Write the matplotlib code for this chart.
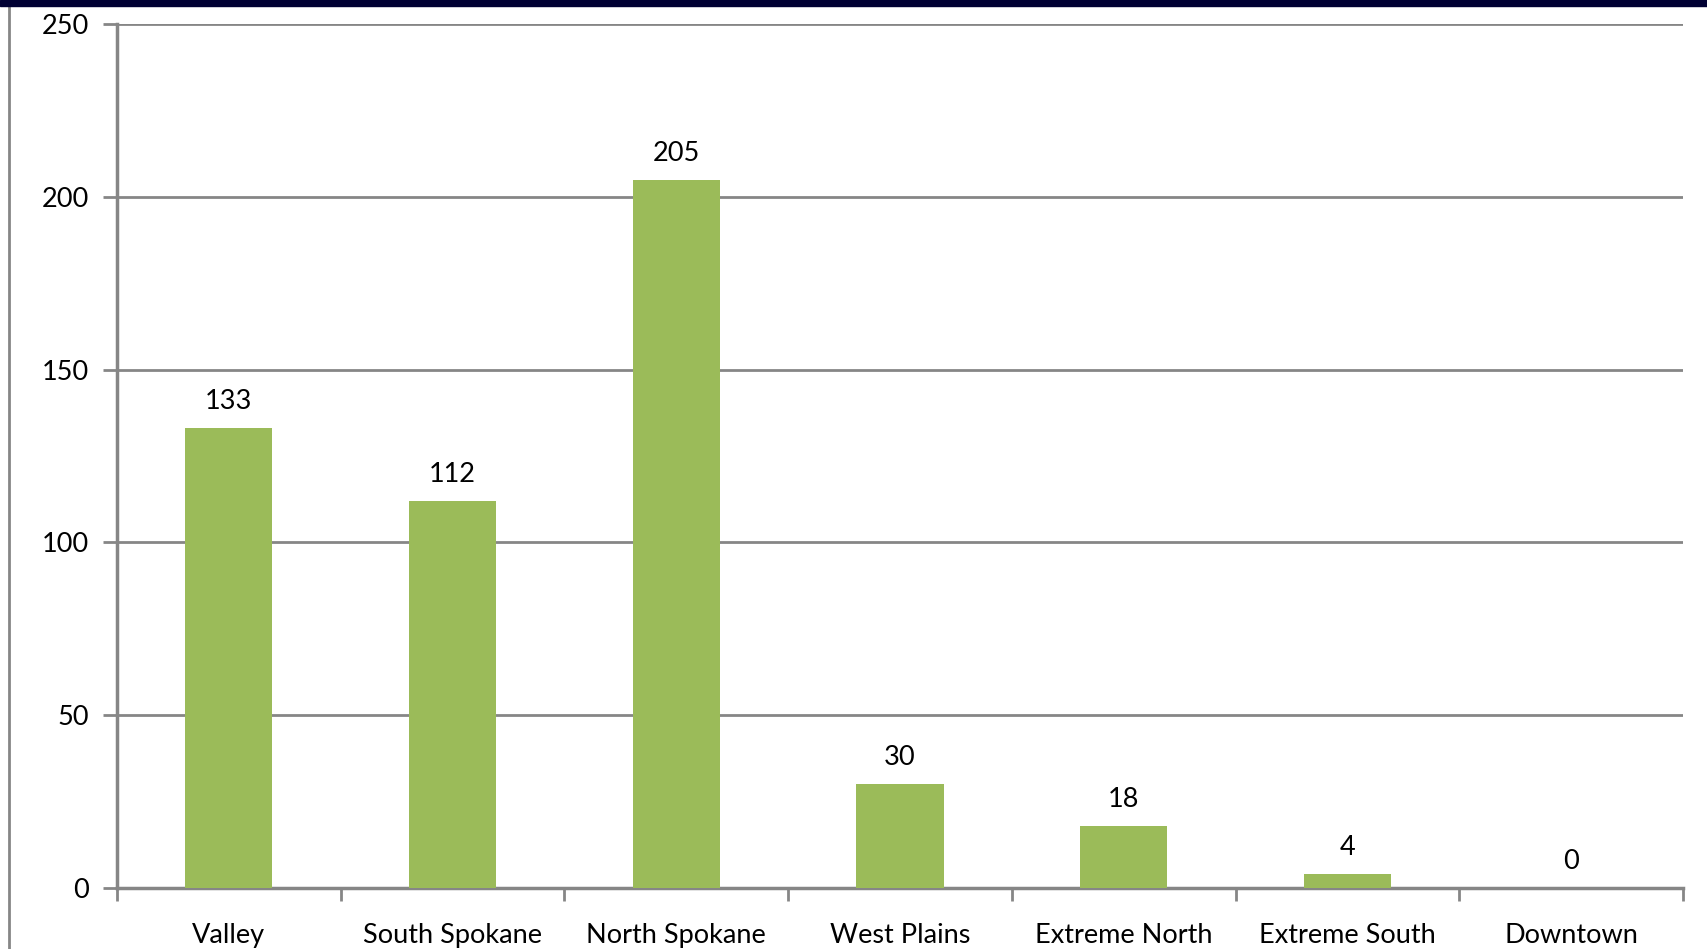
import numpy as np
import matplotlib.pyplot as plt
from matplotlib.patches import Rectangle
from matplotlib.lines import Line2D

regions = ["Valley", "South Spokane", "North Spokane", "West Plains",
           "Extreme North", "Extreme South", "Downtown"]
counts = [133, 112, 205, 30, 18, 4, 0]
yticks = [0, 50, 100, 150, 200, 250]

plt.rcParams['font.family'] = ['Lato', 'DejaVu Sans']
grey = '#868686'

fig = plt.figure(figsize=(17.07, 9.49), dpi=100)
ax = fig.add_axes([0.0685, 0.0643, 0.9175, 0.9104])

x = np.arange(len(regions))
ax.bar(x, counts, width=0.39, color='#9BBB59', zorder=3)
for xi, v in zip(x, counts):
    ax.annotate(str(v), (xi, v), xytext=(0, 10), textcoords='offset points',
                ha='center', va='bottom', fontsize=19.5, color='black')

ax.set_xlim(-0.5, len(regions) - 0.5)
ax.set_ylim(0, 250)
ax.set_yticks(yticks)
ax.set_yticklabels([str(t) for t in yticks], fontsize=19.5)
ax.set_xticks(x)
ax.set_xticklabels(regions, fontsize=19.5)
ax.set_xticks(np.arange(-0.5, len(regions)), minor=True)
ax.tick_params(axis='x', which='major', length=0, pad=25)
ax.tick_params(axis='x', which='minor', length=9, width=2, color=grey)
ax.tick_params(axis='y', length=10, width=2, color=grey, pad=10)
ax.grid(axis='y', color=grey, linewidth=2, zorder=0)

for s in ['top', 'right']:
    ax.spines[s].set_visible(False)
for s in ['left', 'bottom']:
    ax.spines[s].set_color(grey)
    ax.spines[s].set_linewidth(2.5)

# navy band along the top edge and the grey frame line at the left
fig.patches.append(Rectangle((0, 1 - 6 / 949), 1, 6 / 949, transform=fig.transFigure,
                             color='#000033', zorder=5))
fig.lines.append(Line2D([9 / 1707, 9 / 1707], [0, 1 - 6 / 949], transform=fig.transFigure,
                        color=grey, linewidth=2))

fig.savefig('out.png', dpi=100)
